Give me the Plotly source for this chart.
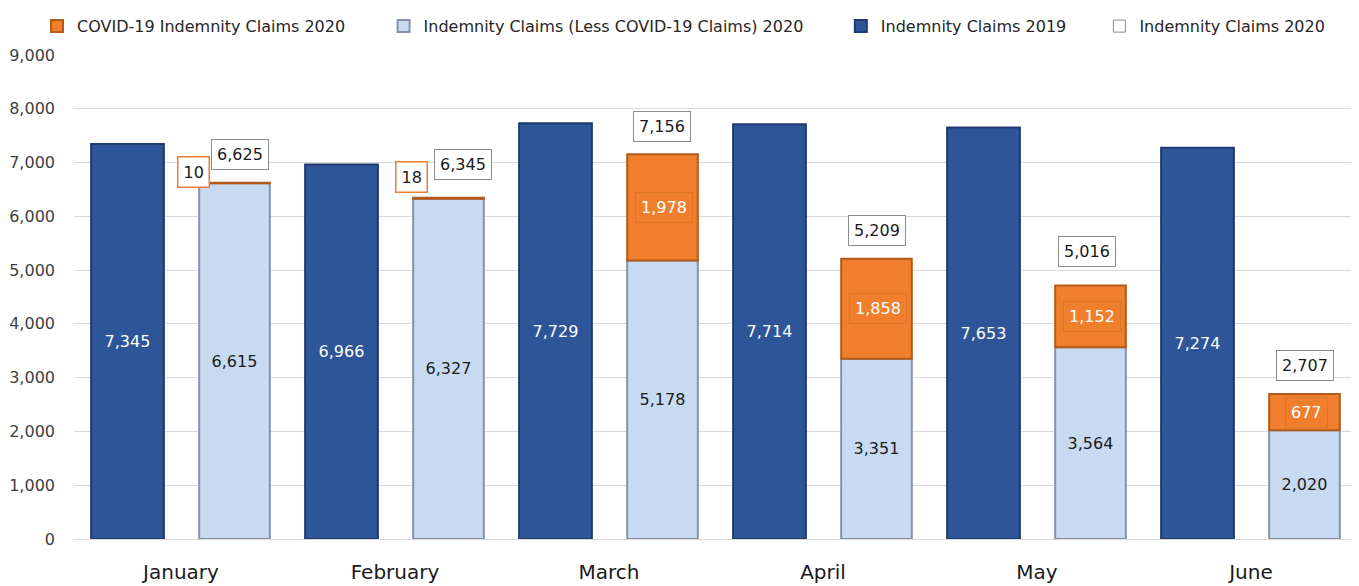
import plotly.graph_objects as go

months = ["January", "February", "March", "April", "May", "June"]
claims_2019 = [7345, 6966, 7729, 7714, 7653, 7274]
less_covid_2020 = [6615, 6327, 5178, 3351, 3564, 2020]
covid_2020 = [10, 18, 1978, 1858, 1152, 677]
total_2020 = [6625, 6345, 7156, 5209, 5016, 2707]

FONT = "'DejaVu Sans', Verdana, sans-serif"
DARK = "#2E5597"
LIGHT = "#C8DAF1"
ORANGE = "#EF7F2C"

fig = go.Figure()

fig.add_trace(go.Bar(
    x=months, y=claims_2019, name="Indemnity Claims 2019",
    marker=dict(color=DARK, line=dict(color="#1E3A70", width=2)),
    width=0.34, offset=-0.42,
    texttemplate="%{y:,}", textposition="inside", insidetextanchor="middle",
    textfont=dict(color="white", size=16, family=FONT), textangle=0,
    legend="legend3",
))
fig.add_trace(go.Bar(
    x=months, y=less_covid_2020, name="Indemnity Claims (Less COVID-19 Claims) 2020",
    marker=dict(color=LIGHT, line=dict(color="#8593AA", width=2)),
    width=0.33, offset=0.085,
    texttemplate="%{y:,}", textposition="inside", insidetextanchor="middle",
    textfont=dict(color="#1a1a1a", size=16, family=FONT), textangle=0,
    legend="legend2",
))
fig.add_trace(go.Bar(
    x=months, y=covid_2020, base=less_covid_2020, name="COVID-19 Indemnity Claims 2020",
    marker=dict(color=ORANGE, line=dict(color="#B35A18", width=2)),
    width=0.33, offset=0.085,
    legend="legend",
))
# legend-only entry for the total series (its labels are boxed annotations)
fig.add_trace(go.Bar(
    x=months, y=[None] * len(months), name="Indemnity Claims 2020",
    marker=dict(color="white", line=dict(color="#8C8C8C", width=1)),
    width=0.33, offset=0.085,
    legend="legend4",
))

# manual label nudges (pixels), as the labels were hand-placed in the original
total_dx = [6, 15, 0, 1, -3, 1]
total_dy = [28, 33, 28, 28, 18, 28]
small_dx = {0: -41, 1: -37}
small_dy = {0: 11, 1: 21}

for i, m in enumerate(months):
    fig.add_annotation(
        x=m, y=total_2020[i], text=f"{total_2020[i]:,}", showarrow=False,
        xshift=53 + total_dx[i], yshift=total_dy[i],
        font=dict(size=16, color="#1a1a1a", family=FONT),
        bgcolor="white", bordercolor="#8C8C8C", borderwidth=1, borderpad=5,
    )
    if i in small_dx:
        fig.add_annotation(
            x=m, y=less_covid_2020[i] + covid_2020[i], text=f"{covid_2020[i]:,}",
            showarrow=False, xshift=53 + small_dx[i], yshift=small_dy[i],
            font=dict(size=16, color="#1a1a1a", family=FONT),
            bgcolor="white", bordercolor="#ED7D31", borderwidth=1.5, borderpad=5,
        )
    else:
        fig.add_annotation(
            x=m, y=less_covid_2020[i] + covid_2020[i] / 2, text=f"{covid_2020[i]:,}",
            showarrow=False, xshift=55,
            font=dict(size=16, color="white", family=FONT),
            bordercolor="rgba(200,110,40,0.55)", borderwidth=1, borderpad=5,
        )

leg_common = dict(orientation="h", xanchor="left", y=1.0595, yanchor="middle",
                  font=dict(size=16, family=FONT, color="#262626"),
                  bgcolor="rgba(0,0,0,0)")

fig.update_layout(
    barmode="overlay",
    width=1351, height=578,
    margin=dict(l=64, r=1, t=44, b=47),
    paper_bgcolor="white", plot_bgcolor="white",
    font=dict(family=FONT, color="#262626"),
    showlegend=True,
    legend=dict(x=-0.0288, **leg_common),
    legend2=dict(x=0.2411, **leg_common),
    legend3=dict(x=0.5972, **leg_common),
    legend4=dict(x=0.7986, **leg_common),
    xaxis=dict(
        range=[-0.5, 5.5], showgrid=False, showline=False, ticks="",
        tickfont=dict(size=20, family=FONT, color="#1a1a1a"),
        ticklabelstandoff=19,
    ),
    yaxis=dict(
        range=[0, 9000], dtick=1000, tickformat=",d",
        showgrid=True, gridcolor="#D9D9D9", gridwidth=1,
        zeroline=True, zerolinecolor="#D9D9D9", zerolinewidth=1,
        tickfont=dict(size=16, family=FONT, color="#404040"),
        ticklabelstandoff=18,
    ),
)

fig.write_html("out.html")
